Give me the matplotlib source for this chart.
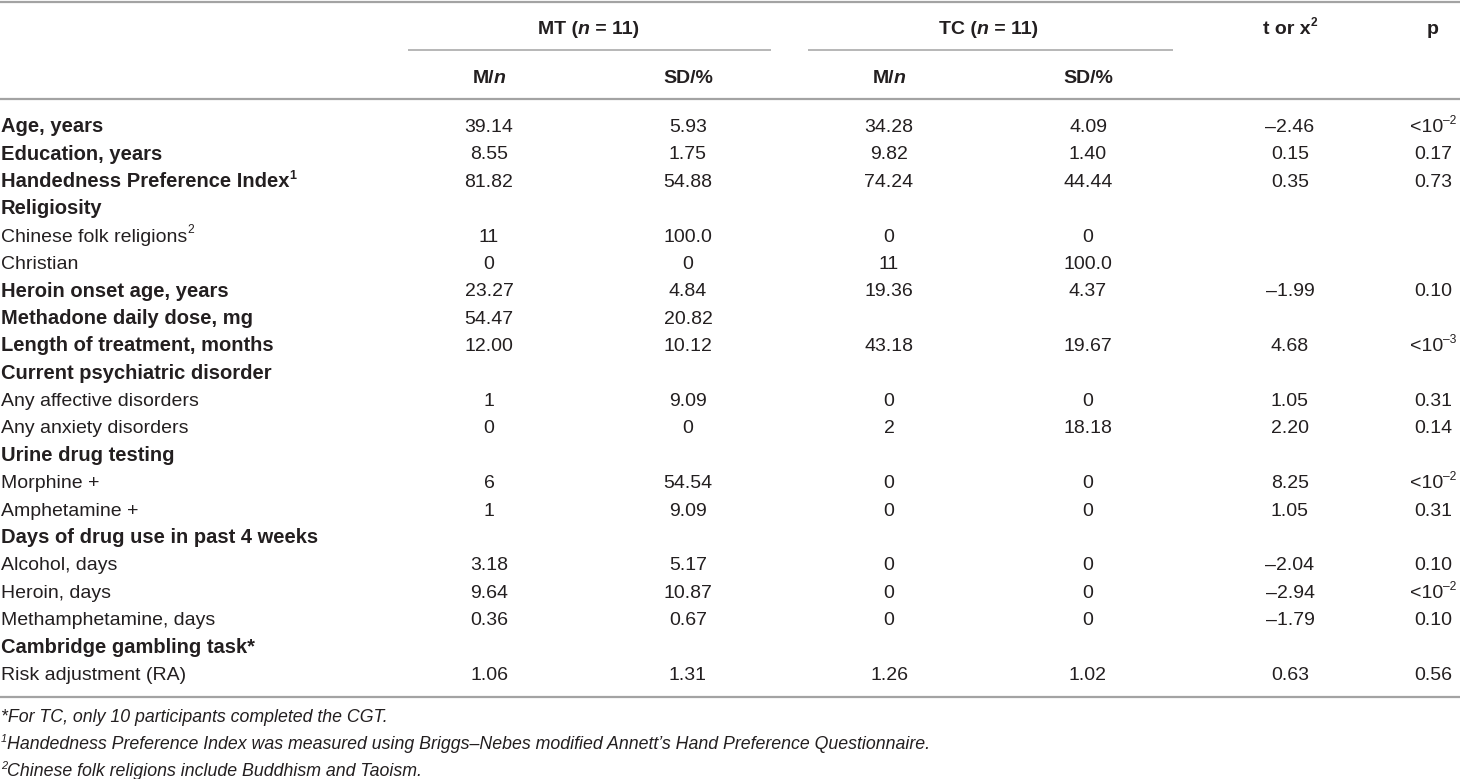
import re
import matplotlib
matplotlib.use('Agg')
import matplotlib.pyplot as plt

plt.rcParams['font.family'] = ['Liberation Sans', 'DejaVu Sans']

# ---- table content ----
# markup: ^{..} superscript, ~{..} italic
row_labels = [
    'Age, years', 'Education, years', 'Handedness Preference Index^{1}',
    'Religiosity', 'Chinese folk religions^{2}', 'Christian',
    'Heroin onset age, years', 'Methadone daily dose, mg',
    'Length of treatment, months', 'Current psychiatric disorder',
    'Any affective disorders', 'Any anxiety disorders', 'Urine drug testing',
    'Morphine +', 'Amphetamine +', 'Days of drug use in past 4 weeks',
    'Alcohol, days', 'Heroin, days', 'Methamphetamine, days',
    'Cambridge gambling task*', 'Risk adjustment (RA)',
]
row_bold = [1, 1, 1, 1, 0, 0, 1, 1, 1, 1, 0, 0, 1, 0, 0, 1, 0, 0, 0, 1, 0]

mt_mean = ['39.14', '8.55', '81.82', '', '11', '0', '23.27', '54.47', '12.00', '',
           '1', '0', '', '6', '1', '', '3.18', '9.64', '0.36', '', '1.06']
mt_sd = ['5.93', '1.75', '54.88', '', '100.0', '0', '4.84', '20.82', '10.12', '',
         '9.09', '0', '', '54.54', '9.09', '', '5.17', '10.87', '0.67', '', '1.31']
tc_mean = ['34.28', '9.82', '74.24', '', '0', '11', '19.36', '', '43.18', '',
           '0', '2', '', '0', '0', '', '0', '0', '0', '', '1.26']
tc_sd = ['4.09', '1.40', '44.44', '', '0', '100.0', '4.37', '', '19.67', '',
         '0', '18.18', '', '0', '0', '', '0', '0', '0', '', '1.02']
t_stat = ['–2.46', '0.15', '0.35', '', '', '', '–1.99', '', '4.68', '',
          '1.05', '2.20', '', '8.25', '1.05', '', '–2.04', '–2.94', '–1.79', '', '0.63']
p_val = ['<10^{–2}', '0.17', '0.73', '', '', '', '0.10', '', '<10^{–3}', '',
         '0.31', '0.14', '', '<10^{–2}', '0.31', '', '0.10', '<10^{–2}', '0.10', '', '0.56']

group_heads = ['MT (~{n} = 11)', 'TC (~{n} = 11)']
sub_heads = ['M/~{n}', 'SD/%']
stat_heads = ['t or x^{2}', 'p']

footnotes = [
    '*For TC, only 10 participants completed the CGT.',
    '^{1}Handedness Preference Index was measured using Briggs–Nebes modified '
    'Annett\u2019s Hand Preference Questionnaire.',
    '^{2}Chinese folk religions include Buddhism and Taoism.',
]

# ---- layout (pixel coords) ----
W, H = 1460, 779
ink = '#231f20'
rule = '#a3a3a3'
col_x = [489, 688, 889, 1088]
stat_x = [1290, 1433]
row_y0, row_dy = 125, 27.4
fs = 14
fs_bold = 14.5
px = 100 / 72.0

fig = plt.figure(figsize=(W / 100, H / 100), dpi=100)
ax = fig.add_axes([0, 0, 1, 1])
ax.set_xlim(0, W)
ax.set_ylim(H, 0)
ax.axis('off')
renderer = fig.canvas.get_renderer()


def rich(x, y, s, size=fs, weight='normal', style='normal', ha='left'):
    # y is the visual middle of the capitals
    base = y + 0.36 * size * px
    items = []
    for part in re.split(r'(\^\{.*?\}|~\{.*?\})', s):
        if not part:
            continue
        if part.startswith('^{'):
            t = ax.text(0, base - 0.42 * size * px, part[2:-1], fontsize=size * 0.62,
                        weight=weight, style=style, va='baseline', color=ink)
        elif part.startswith('~{'):
            t = ax.text(0, base, part[2:-1], fontsize=size, weight=weight,
                        style='italic', va='baseline', color=ink)
        else:
            t = ax.text(0, base, part, fontsize=size, weight=weight, style=style,
                        va='baseline', color=ink)
        items.append(t)
    widths = [t.get_window_extent(renderer).width for t in items]
    x0 = x - sum(widths) / 2 if ha == 'center' else x
    for t, w in zip(items, widths):
        t.set_x(x0)
        x0 += w


# rules
ax.plot([0, W], [1.5, 1.5], color=rule, lw=1.6, solid_capstyle='butt')
ax.plot([408, 771], [50, 50], color=rule, lw=1.1, solid_capstyle='butt')
ax.plot([808, 1173], [50, 50], color=rule, lw=1.1, solid_capstyle='butt')
ax.plot([0, W], [99, 99], color=rule, lw=1.6, solid_capstyle='butt')
ax.plot([0, W], [697, 697], color=rule, lw=1.6, solid_capstyle='butt')

# headers
rich((col_x[0] + col_x[1]) / 2, 27, group_heads[0], weight='bold', ha='center')
rich((col_x[2] + col_x[3]) / 2, 27, group_heads[1], weight='bold', ha='center')
for i, h in enumerate(sub_heads * 2):
    rich(col_x[i], 76, h, weight='bold', ha='center')
for x, h in zip(stat_x, stat_heads):
    rich(x, 27, h, weight='bold', ha='center')

# body
for i, lab in enumerate(row_labels):
    y = row_y0 + i * row_dy
    if row_bold[i]:
        rich(1, y, lab, size=fs_bold, weight='bold')
    else:
        rich(1, y, lab)
    for x, col in zip(col_x, [mt_mean, mt_sd, tc_mean, tc_sd]):
        if col[i]:
            rich(x, y, col[i], ha='center')
    if t_stat[i]:
        rich(stat_x[0], y, t_stat[i], ha='center')
    if p_val[i]:
        rich(stat_x[1], y, p_val[i], ha='center')

# footnotes
for k, note in enumerate(footnotes):
    rich(1, 716 + k * 26.8, note, size=12.8, style='italic')

fig.savefig('out.png', dpi=100)
